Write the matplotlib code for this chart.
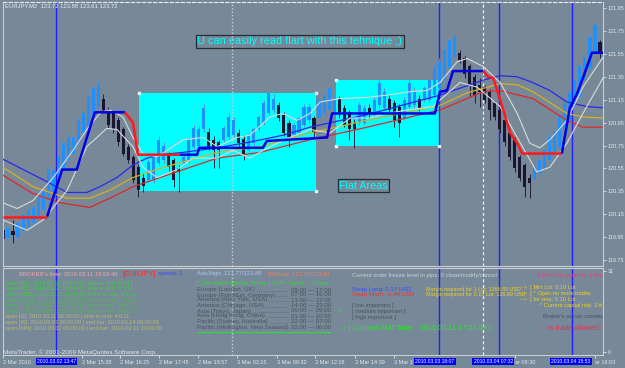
import matplotlib
matplotlib.use("Agg")
import matplotlib.pyplot as plt
from matplotlib.lines import Line2D
from matplotlib.patches import Rectangle

plt.rcParams['font.family'] = ['Liberation Sans', 'DejaVu Sans']

W, H = 625, 368
BG = '#778899'

# EURJPY M2 candles
opens = [120.01, 119.94, 120.00, 119.95, 120.00, 120.04, 120.07, 120.13, 120.19, 120.27,
         120.34, 120.45, 120.54, 120.62, 120.68, 120.77, 120.86, 120.91, 120.99, 121.09,
         121.16, 121.06, 121.03, 120.97, 120.89, 120.74, 120.65, 120.56, 120.47, 120.45,
         120.45, 120.60, 120.62, 120.67, 120.62, 120.55, 120.60, 120.62, 120.74, 120.75,
         120.89, 120.87, 120.80, 120.78, 120.80, 120.82, 120.84, 120.86, 120.81, 120.71,
         120.77, 120.89, 120.95, 121.03, 121.06, 121.10, 121.02, 120.95, 120.84, 120.86,
         120.93, 120.97, 120.99, 120.99, 121.03, 121.06, 121.04, 121.16, 121.08, 121.04,
         120.95, 120.95, 120.95, 121.08, 121.02, 121.10, 121.08, 121.16, 121.12, 121.09,
         120.99, 121.09, 121.10, 121.16, 121.15, 121.15, 121.19, 121.25, 121.32, 121.43,
         121.52, 121.56, 121.51, 121.44, 121.35, 121.28, 121.26, 121.22, 121.12, 121.06,
         120.97, 120.86, 120.80, 120.65, 120.58, 120.47, 120.45, 120.51, 120.54, 120.62,
         120.68, 120.74, 120.89, 120.97, 121.09, 121.17, 121.32, 121.43, 121.56, 121.65]
highs = [120.06, 120.05, 120.10, 120.09, 120.16, 120.21, 120.23, 120.32, 120.38, 120.56,
         120.57, 120.67, 120.80, 120.84, 120.85, 121.00, 121.05, 121.20, 121.28, 121.33,
         121.20, 121.09, 121.06, 121.00, 120.91, 120.76, 120.67, 120.59, 120.51, 120.63,
         120.67, 120.83, 120.78, 120.69, 120.64, 120.58, 120.67, 120.82, 120.93, 120.92,
         121.11, 120.90, 120.83, 120.80, 120.92, 121.03, 121.00, 120.89, 120.84, 120.86,
         120.91, 121.02, 121.15, 121.25, 121.20, 121.13, 121.04, 120.97, 120.95, 121.01,
         121.11, 121.12, 121.01, 121.18, 121.21, 121.28, 121.19, 121.18, 121.10, 121.06,
         120.98, 121.13, 121.10, 121.11, 121.17, 121.33, 121.25, 121.19, 121.15, 121.11,
         121.17, 121.33, 121.26, 121.19, 121.27, 121.35, 121.46, 121.51, 121.62, 121.71,
         121.74, 121.58, 121.53, 121.46, 121.37, 121.34, 121.28, 121.24, 121.14, 121.08,
         121.00, 120.88, 120.82, 120.67, 120.60, 120.50, 120.58, 120.64, 120.73, 120.85,
         120.91, 121.03, 121.15, 121.24, 121.35, 121.47, 121.55, 121.73, 121.84, 121.67]
lows = [119.88, 119.92, 119.90, 119.93, 119.98, 120.02, 120.05, 120.11, 120.17, 120.25,
        120.32, 120.43, 120.52, 120.60, 120.66, 120.75, 120.84, 120.89, 120.97, 121.07,
        121.03, 120.90, 120.86, 120.75, 120.66, 120.60, 120.42, 120.30, 120.34, 120.43,
        120.42, 120.58, 120.60, 120.53, 120.39, 120.34, 120.58, 120.60, 120.72, 120.73,
        120.87, 120.71, 120.55, 120.55, 120.78, 120.80, 120.82, 120.74, 120.62, 120.69,
        120.75, 120.87, 120.93, 121.01, 121.04, 120.96, 120.83, 120.74, 120.82, 120.84,
        120.91, 120.95, 120.82, 120.97, 121.01, 121.04, 121.02, 120.99, 120.91, 120.80,
        120.73, 120.93, 120.93, 120.99, 121.00, 121.08, 121.06, 121.03, 120.91, 120.82,
        120.97, 121.07, 121.08, 121.05, 121.13, 121.13, 121.17, 121.23, 121.30, 121.41,
        121.50, 121.47, 121.34, 121.17, 121.12, 121.09, 121.12, 120.97, 120.97, 120.86,
        120.75, 120.62, 120.52, 120.44, 120.30, 120.29, 120.43, 120.49, 120.52, 120.60,
        120.66, 120.72, 120.87, 120.95, 121.07, 121.15, 121.30, 121.41, 121.54, 121.51]
closes = [119.93, 120.03, 119.97, 120.07, 120.14, 120.19, 120.21, 120.30, 120.36, 120.54,
          120.54, 120.65, 120.77, 120.82, 120.82, 120.97, 121.03, 121.17, 121.25, 121.28,
          121.06, 120.93, 120.89, 120.78, 120.68, 120.62, 120.45, 120.36, 120.40, 120.61,
          120.65, 120.80, 120.75, 120.56, 120.45, 120.52, 120.65, 120.80, 120.90, 120.89,
          121.08, 120.74, 120.71, 120.71, 120.90, 121.00, 120.97, 120.77, 120.67, 120.84,
          120.89, 121.00, 121.12, 121.21, 121.16, 120.99, 120.86, 120.82, 120.93, 120.99,
          121.09, 121.09, 120.86, 121.15, 121.19, 121.25, 121.16, 121.04, 120.93, 120.89,
          120.89, 121.10, 121.08, 121.02, 121.15, 121.30, 121.22, 121.06, 120.97, 120.95,
          121.15, 121.30, 121.23, 121.08, 121.25, 121.32, 121.43, 121.48, 121.58, 121.67,
          121.71, 121.50, 121.37, 121.28, 121.19, 121.22, 121.15, 121.06, 121.00, 120.89,
          120.78, 120.65, 120.55, 120.47, 120.39, 120.42, 120.56, 120.62, 120.71, 120.82,
          120.88, 121.00, 121.12, 121.21, 121.32, 121.44, 121.52, 121.70, 121.80, 121.56]

# moving averages (bar position, price)
ma_blue_x = [0, 9.4, 12.8, 16.7, 19.3, 22.7, 25.9, 28.7, 31.3, 35.9, 42.7, 49.2, 55.8, 61.2,
             72.6, 87.1, 95.7, 99.1, 102.5, 105.6, 109, 112.4, 116.4, 119.6]
ma_blue_y = [120.63, 120.42, 120.34, 120.34, 120.39, 120.47, 120.58, 120.64, 120.67, 120.69,
             120.73, 120.78, 120.84, 120.91, 121.02, 121.19, 121.32, 121.36, 121.35, 121.30,
             121.23, 121.13, 121.09, 121.08]
ma_gold_x = [0, 6, 12.8, 17.3, 21.3, 25.9, 31.3, 42.7, 51.2, 61.2, 72.6, 87.1, 92.5, 99.1,
             102.5, 105.6, 112.4, 115.6, 119.6]
ma_gold_y = [120.56, 120.39, 120.29, 120.29, 120.36, 120.47, 120.55, 120.69, 120.74, 120.86,
             120.97, 121.10, 121.21, 121.29, 121.28, 121.22, 121.03, 121.00, 120.99]
ma_red_x = [0, 6, 11.4, 17.3, 21.3, 25.9, 31.3, 42.7, 51.2, 61.2, 72.6, 87.1, 95.7, 99.1,
            105.6, 112.4, 115.6, 119.6]
ma_red_y = [120.49, 120.33, 120.25, 120.21, 120.29, 120.39, 120.47, 120.64, 120.69, 120.80,
            120.91, 121.06, 121.22, 121.23, 121.16, 120.97, 120.91, 120.91]

# white envelope lines
env_up_x = [0, 2.8, 6, 10, 14, 16.7, 19.3, 21.3, 23.9, 25.9, 27.9, 30.7, 35.9, 39.9, 42.7,
            46.6, 49.2, 53.2, 55.8, 58.6, 61.2, 63.2, 67.2, 72.6, 76.5, 81.1, 84.5, 87.1,
            90.5, 92.5, 95.7, 99.1, 102.5, 105, 107, 109, 112.4, 115.6, 119.6]
env_up_y = [120.25, 120.20, 120.27, 120.47, 120.71, 120.89, 121.03, 121.06, 121.00, 120.82,
            120.68, 120.65, 120.80, 120.82, 120.74, 120.82, 120.84, 121.00, 121.03, 120.97,
            121.03, 121.13, 121.16, 121.17, 121.19, 121.22, 121.23, 121.30, 121.48, 121.51,
            121.44, 121.30, 121.03, 120.77, 120.73, 120.80, 120.97, 121.26, 121.52]
env_lo_x = [0, 4.8, 8, 12.8, 16.7, 20.7, 22.7, 25.9, 27.9, 30.7, 34.7, 37.9, 42.7, 45.8,
            49.2, 53.2, 57.2, 61.2, 65.2, 69.2, 73.2, 76.5, 80.5, 85.7, 87.7, 91.1, 94.5,
            99.1, 102.5, 106.4, 109, 112.4, 115.6, 119.6]
env_lo_y = [120.10, 120.01, 120.10, 120.36, 120.74, 120.90, 120.89, 120.74, 120.56, 120.47,
            120.54, 120.64, 120.64, 120.71, 120.64, 120.74, 120.82, 120.89, 120.86, 120.99,
            120.99, 121.03, 121.06, 121.09, 121.17, 121.30, 121.26, 121.09, 120.82, 120.52,
            120.56, 120.77, 121.03, 121.34]

# thick trend (step) line, split by colour
trend_x = [[0, 8.8],
           [8.8, 11.8, 14.7, 18.3, 24.3],
           [24.3, 25.9, 26.9, 35.3],
           [35.3, 38.7, 39.1, 51.8, 52.6, 64.6, 65.6, 86.1, 87.1, 88.5, 89.7, 95.7],
           [95.7, 96.7, 97.7, 99.1, 101.1, 102.5, 103.5, 111.4],
           [111.4, 113.0, 114.4, 115.6, 117.4, 119.6]]
trend_y = [[120.13, 120.13],
           [120.13, 120.54, 120.54, 121.04, 121.04],
           [121.04, 120.95, 120.67, 120.67],
           [120.67, 120.67, 120.73, 120.73, 120.79, 120.82, 121.03, 121.03, 121.22, 121.23, 121.40, 121.40],
           [121.40, 121.35, 121.34, 121.15, 120.86, 120.77, 120.68, 120.68],
           [120.68, 121.08, 121.20, 121.34, 121.56, 121.56]]
trend_colors = ['#ff1a1a', '#0000e6', '#ff1a1a', '#0000e6', '#ff1a1a', '#0000e6']

# "flat area" rectangles
flat_x0 = [27.1, 66.4]
flat_x1 = [62.4, 86.9]
flat_lo = [120.35, 120.75]
flat_hi = [121.21, 121.32]

price_ticks = [121.95, 121.75, 121.55, 121.35, 121.15, 120.95, 120.75, 120.55, 120.35,
               120.15, 119.95, 119.75]
# time labels as far as they are visible next to the highlighted boxes
time_pos = [0, 15.7, 23.3, 31.1, 38.9, 46.6, 54.6, 62.2, 70.2, 77.9, 102.1, 118.0]
time_labels = ['2 Mar 2010', '2 Mar 15:38', '2 Mar 16:25', '2 Mar 17:45', '2 Mar 19:57',
               '3 Mar 02:15', '3 Mar 09:32', '3 Mar 12:16', '3 Mar 14:39', '3 Mar 1',
               'ar 08:30', 'ar 16:03']
vline_pos = [10.6, 86.9, 98.9, 113.4]
vbox_pos = [10.6, 86.1, 97.7, 113.2]
vline_labels = ['2010.03.02 13:47', '2010.03.03 18:07', '2010.03.04 07:32', '2010.03.04 15:53']


def fxy(x, y):
    return x / W, 1 - y / H


fig = plt.figure(figsize=(W / 100, H / 100), dpi=100, facecolor=BG)
ax = fig.add_axes([3 / W, 1 - 266 / H, 600 / W, 264 / H], facecolor=BG)
axp = fig.add_axes([3 / W, 1 - 355 / H, 600 / W, 87 / H], facecolor=BG)

ax.set_xlim(0, 119.6)
ax.set_ylim(119.698, 122.003)
axp.set_xlim(0, 119.6)
axp.set_ylim(-1.15, 32.1)

for a in (ax, axp):
    for s in a.spines.values():
        s.set_color('#c8ced4')
        s.set_linewidth(0.8)
ax.spines['top'].set_linestyle((0, (3, 2)))
ax.spines['top'].set_color('#e8ecf0')

# flat areas
for x0, x1, lo, hi in zip(flat_x0, flat_x1, flat_lo, flat_hi):
    ax.add_patch(Rectangle((x0, lo), x1 - x0, hi - lo, fc='#00ffff', ec='none', zorder=1))
handle_x = [flat_x0[0], flat_x1[0], flat_x1[0], flat_x0[1], flat_x0[1], flat_x1[1]]
handle_y = [flat_hi[0], flat_hi[0], flat_lo[0], flat_hi[1], flat_lo[1], flat_lo[1]]
ax.plot(handle_x, handle_y, 's', ms=1.8, color='#e8ffff', mec='#e8ffff', zorder=6, clip_on=False)

# vertical lines
for a in (ax, axp):
    for v in vline_pos:
        a.axvline(v, color='#1f1fff', lw=1.0, zorder=1.5)
    a.axvline(45.6, color='#c8d0d8', lw=1.0, ls=(0, (1, 1.5)), zorder=1.5)
    a.axvline(95.7, color='#f0f0f0', lw=0.9, ls=(0, (2.5, 2)), zorder=1.5)

# candles
xs = list(range(len(opens)))
bull = [c >= o for o, c in zip(opens, closes)]
body_lo = [min(o, c) for o, c in zip(opens, closes)]
body_h = [max(abs(c - o), 0.012) for o, c in zip(opens, closes)]
wick_col = ['#5c8fc8' if b else '#25203a' for b in bull]
body_col = ['#1e90ff' if b else '#1c1433' for b in bull]
ax.vlines(xs, lows, highs, colors=wick_col, lw=0.7, zorder=2)
ax.bar(xs, body_h, bottom=body_lo, width=0.62, color=body_col, lw=0, zorder=2.5)

# indicator lines
ax.plot(ma_blue_x, ma_blue_y, color='#2a2ae8', lw=0.9, zorder=3)
ax.plot(ma_gold_x, ma_gold_y, color='#d8b020', lw=0.9, zorder=3)
ax.plot(ma_red_x, ma_red_y, color='#e02828', lw=0.9, zorder=3)
ax.plot(env_up_x, env_up_y, color='#d8dcdc', lw=0.8, zorder=3)
ax.plot(env_lo_x, env_lo_y, color='#d8dcdc', lw=0.8, zorder=3)
for tx, ty, tc in zip(trend_x, trend_y, trend_colors):
    ax.plot(tx, ty, color=tc, lw=1.8, zorder=4, solid_capstyle='butt')

# chart labels
ax.text(38.7, 121.66, 'U can easily read flart with this tehnique ;)', color='#00ffff',
        fontsize=7.9, va='center', ha='left', zorder=7,
        bbox=dict(boxstyle='square,pad=0.15', fc='none', ec='#262c34', lw=0.9))
ax.text(67.0, 120.40, 'Flat Areas', color='#00ffff', fontsize=7.7, va='center', ha='left',
        zorder=7, bbox=dict(boxstyle='square,pad=0.15', fc='none', ec='#262c34', lw=0.9))
fig.text(*fxy(5, 6), 'EURJPY,M2  123.72 123.88 123.61 123.72', color='#e8ecf0',
         fontsize=4.2, va='center')

# price axis
ax.yaxis.tick_right()
ax.set_yticks(price_ticks)
ax.set_yticklabels([f'{p:.2f}' for p in price_ticks])
ax.tick_params(axis='y', colors='#e4e8ec', labelsize=4, length=2, width=0.6, pad=1.5)
ax.tick_params(axis='x', bottom=False, labelbottom=False)

axp.yaxis.tick_right()
axp.set_yticks([0, 31])
axp.set_yticklabels(['0', '31'])
axp.tick_params(axis='y', colors='#e4e8ec', labelsize=4, length=2, width=0.6, pad=1.5)

# time axis
axp.set_xticks(time_pos)
axp.set_xticklabels(time_labels, ha='left')
axp.tick_params(axis='x', colors='#e4e8ec', labelsize=4, length=2.5, width=0.6, pad=1.2)
for v, lab in zip(vbox_pos, vline_labels):
    axp.text(v, -0.075, lab, transform=axp.get_xaxis_transform(), color='white', fontsize=3.6,
             ha='center', va='center', zorder=8, clip_on=False,
             bbox=dict(boxstyle='square,pad=0.22', fc='#0000f0', ec='none'))

# info panel text
panel_texts = [
    (19, 274, "BROKER's time: 2010.03.11 19:53:49", '#f0a8a8', 4.2),
    (122, 274, '[EURJPY]', '#ff2a2a', 5.3),
    (158, 274, 'spread: 3', '#3a4cff', 4.2),
    (197, 274, 'Ask/High: 121.77/123.88', '#a8c8f0', 4.2),
    (268, 274, 'Bid/Low: 121.70/121.61', '#f08060', 4.2),
    (352, 275, 'Current order freeze level in pips: 0 close/modify/cancel', '#c8d0d8', 4.2),
    (537, 275, '1 Pip/Tick value for 1 Mini lot', '#e8407a', 4.2),
    (5, 283.3, 'open [M1]: 2010.03.11 19:53:00 | time to end: 0:0:11', '#3cd23c', 4.0),
    (5, 288.9, 'open [M5]: 2010.03.11 19:50:00 | time to end: 0:3:11', '#3cd23c', 4.0),
    (5, 294.5, 'open [M15]: 2010.03.11 19:45:00 | time to end: 0:6:11', '#3cd23c', 4.0),
    (5, 300.1, 'open [M30]: 2010.03.11 19:30:00 | time to end: 0:06:11', '#4cbc4c', 4.0),
    (5, 305.7, 'open [H1]: 2010.03.11 19:00:00 | time to end: 0:06:11', '#4cbc4c', 4.0),
    (5, 311.3, 'open [H4]: 2010.03.11 16:00:00 | time to end: 0:06:22', '#4cbc4c', 4.0),
    (5, 316.9, 'open [D]: 2010.03.11 00:00:00 | time to end: 4:6:11', '#b8b878', 4.0),
    (5, 322.5, 'open [W]: 2010.03.07 00:00:00 | end bar: 2010.03.14 00:00:00', '#b8b878', 4.0),
    (5, 328.1, 'open [MN]: 2010.03.01 00:00:00 | end bar: 2010.03.31 00:00:00', '#b8b878', 4.0),
    (197, 284, '[ 24h World Market Times ]', '#2ee02e', 4.4),
    (272, 284, 'GMT: Open --- Close', '#2ee02e', 4.4),
    (352, 289, 'Swap Long: 0.17 USD', '#3a48ff', 4.3),
    (352, 294.5, 'Swap Short: -2.48 USD', '#ff2a2a', 4.3),
    (426, 289, 'Margin required for 1 Lot: 1366.85 USD', '#f0d020', 3.9),
    (426, 294.5, 'Margin required for 0.10 Lot: 136.69 USD', '#f0d020', 3.9),
    (337, 310, '-{}', '#3cd23c', 4.6),
    (352, 306, '[ low important ]', '#4a545c', 4.2),
    (352, 311.5, '[ medium important ]', '#4a545c', 4.2),
    (352, 317, '[ high important ]', '#4a545c', 4.2),
    (340, 328, '-> [ Current GMT time:   2010.03.11 17:53:49 ]', '#2ee62e', 5.3),
    (520, 288, '-->  [ Min Lot: 0.10 Lot', '#f0d020', 4.1),
    (520, 294, '-->  [ * Open no more trades', '#f0d020', 4.1),
    (520, 299.5, '-->  [ lot step: 0.10 Lot', '#f0d020', 4.1),
    (540, 306, '* Current capital risk: 1%', '#f0d020', 4.1),
    (543, 317, "Broker's server connection", '#4a545c', 4.2),
    (540, 328, '.:: Is trade allowed', '#e83050', 5.3),
    (3, 352, 'MetaTrader, \u00a9 2001-2009 MetaQuotes Software Corp.', '#e4e8ec', 4.6),
]
for px, py, txt, col, fs in panel_texts:
    t = axp.text(*fxy(px, py), txt, color=col, fontsize=fs, va='center', ha='left',
                 transform=fig.transFigure, zorder=6)
    t.set_clip_box(axp.bbox)
    t.set_clip_on(True)

market_names = ['Europe (London, UK)', 'Europe (Frankfurt, Germany)', 'America (New York, USA)',
                'America (Chicago, USA)', 'Asia (Tokyo, Japan)', 'Asia (Hong Kong, China)',
                'Pacific (Sydney, Australia)', 'Pacific (Wellington, New Zealand)']
market_hours = ['08:00 --- 17:00', '07:00 --- 16:00', '13:00 --- 22:00', '14:00 --- 23:00',
                '00:00 --- 09:00', '01:00 --- 10:00', '22:00 --- 07:00', '22:00 --- 06:00']
market_rows = [290, 295, 300, 305.7, 311, 316, 321.7, 327.3]
name_artists = []
for name, hrs, ry in zip(market_names, market_hours, market_rows):
    name_artists.append(fig.text(*fxy(197, ry), name, color='#4a545c', fontsize=4.4, va='center'))
    fig.text(*fxy(291, ry), hrs, color='#4a545c', fontsize=4.4, va='center')
fig.add_artist(Line2D([197 / W, 330 / W], [1 - 331.5 / H] * 2, color='#2ee02e', lw=0.8,
                      transform=fig.transFigure))

fig.canvas.draw()
rend = fig.canvas.get_renderer()
for t, ry in zip(name_artists, market_rows):
    x_end = t.get_window_extent(rend).x1 + 2
    if x_end < 288:
        fig.add_artist(Line2D([x_end / W, 288 / W], [1 - (ry + 1.2) / H] * 2, color='#4a545c',
                              lw=0.6, ls=(0, (0.6, 1.6)), transform=fig.transFigure))

fig.savefig('out.png', dpi=100, facecolor=BG)
